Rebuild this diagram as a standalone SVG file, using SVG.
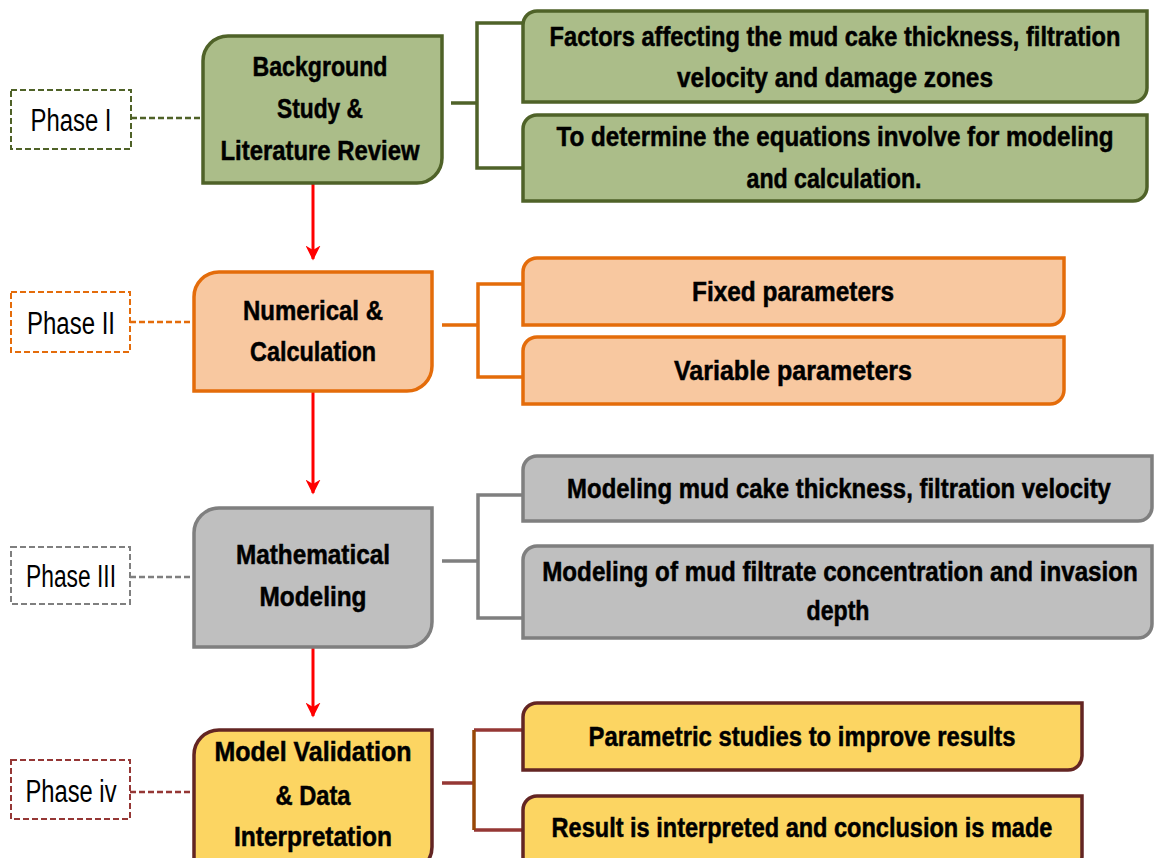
<svg xmlns="http://www.w3.org/2000/svg" width="1154" height="858" viewBox="0 0 1154 858">
<style>
.t{font-family:"Liberation Sans",Arial,sans-serif;font-weight:bold;font-size:27px;fill:#000;stroke:#000;stroke-width:0.5;text-anchor:middle}
.p{font-family:"Liberation Sans",Arial,sans-serif;font-size:31px;fill:#000;text-anchor:middle}
.box{stroke-width:3.5}
.g{fill:#ABBD89;stroke:#4F6228}
.o{fill:#F8C8A0;stroke:#E46C0A}
.y{fill:#BFBFBF;stroke:#7F7F7F}
.w{fill:#FCD562;stroke:#632523}
.dash{fill:#fff;stroke-width:2;stroke-dasharray:6 3}
.dl{fill:none;stroke-width:2.5;stroke-dasharray:6 3}
.br{fill:none;stroke-width:3.5}
.arr{stroke:#FF0000;stroke-width:3;fill:none}
</style>
<defs>
<marker id="ah" viewBox="0 0 10 10" refX="9" refY="5" markerWidth="5" markerHeight="5" orient="auto" markerUnits="strokeWidth">
<path d="M0,0 L10,5 L0,10 L3,5 Z" fill="#FF0000"/>
</marker>
</defs>

<g id="connectors">
<line class="arr" x1="313" y1="183" x2="313" y2="259" marker-end="url(#ah)"/>
<line class="arr" x1="313" y1="391" x2="313" y2="493" marker-end="url(#ah)"/>
<line class="arr" x1="313" y1="647" x2="313" y2="716" marker-end="url(#ah)"/>
<line class="dl" stroke="#4F6228" x1="131" y1="118" x2="203" y2="118"/>
<line class="dl" stroke="#E46C0A" x1="130" y1="322" x2="194" y2="322"/>
<line class="dl" stroke="#7F7F7F" x1="130" y1="577" x2="194" y2="577"/>
<line class="dl" stroke="#953735" x1="130" y1="792" x2="194" y2="792"/>
<path class="br" stroke="#4F6228" d="M451,103 H477 M523,23 H477 V168 H523"/>
<path class="br" stroke="#E46C0A" d="M442,325 H478 M523,284 H478 V377 H523"/>
<path class="br" stroke="#7F7F7F" d="M442,561 H478 M523,495 H478 V618 H523"/>
<path class="br" stroke="#953735" d="M442,783 H474 M523,730 H474 M523,830 H474"/>
<line class="br" stroke="#984807" x1="474" y1="730" x2="474" y2="830"/>
</g>

<g id="phase1">
<rect class="dash" stroke="#4F6228" x="11" y="90" width="120" height="59"/>
<text class="p" x="71" y="131" textLength="81" lengthAdjust="spacingAndGlyphs">Phase I</text>
</g>
<g id="phase2">
<rect class="dash" stroke="#E46C0A" x="11" y="292" width="119" height="60"/>
<text class="p" x="71" y="334" textLength="88" lengthAdjust="spacingAndGlyphs">Phase II</text>
</g>
<g id="phase3">
<rect class="dash" stroke="#7F7F7F" x="11" y="547" width="119" height="57"/>
<text class="p" x="71" y="587" textLength="90" lengthAdjust="spacingAndGlyphs">Phase III</text>
</g>
<g id="phase4">
<rect class="dash" stroke="#953735" x="11" y="760" width="119" height="59"/>
<text class="p" x="71" y="802" textLength="91" lengthAdjust="spacingAndGlyphs">Phase iv</text>
</g>

<g id="main1">
<path class="box g" d="M228,36 H442 V158 A25,25 0 0 1 417,183 H203 V61 A25,25 0 0 1 228,36 Z"/>
<text class="t" x="320" y="76" textLength="135" lengthAdjust="spacingAndGlyphs">Background</text>
<text class="t" x="320" y="118" textLength="86" lengthAdjust="spacingAndGlyphs">Study &amp;</text>
<text class="t" x="320" y="160" textLength="199" lengthAdjust="spacingAndGlyphs">Literature Review</text>
</g>
<g id="main2">
<path class="box o" d="M219,272 H432 V366 A25,25 0 0 1 407,391 H194 V297 A25,25 0 0 1 219,272 Z"/>
<text class="t" x="313" y="320" textLength="140" lengthAdjust="spacingAndGlyphs">Numerical &amp;</text>
<text class="t" x="313" y="361" textLength="126" lengthAdjust="spacingAndGlyphs">Calculation</text>
</g>
<g id="main3">
<path class="box y" d="M219,508 H432 V622 A25,25 0 0 1 407,647 H194 V533 A25,25 0 0 1 219,508 Z"/>
<text class="t" x="313" y="564" textLength="154" lengthAdjust="spacingAndGlyphs">Mathematical</text>
<text class="t" x="313" y="606" textLength="107" lengthAdjust="spacingAndGlyphs">Modeling</text>
</g>
<g id="main4">
<path class="box w" d="M219,730 H432 V847 A25,25 0 0 1 407,872 H194 V755 A25,25 0 0 1 219,730 Z"/>
<text class="t" x="313" y="761" textLength="197" lengthAdjust="spacingAndGlyphs">Model Validation</text>
<text class="t" x="313" y="805" textLength="75" lengthAdjust="spacingAndGlyphs">&amp; Data</text>
<text class="t" x="313" y="846" textLength="158" lengthAdjust="spacingAndGlyphs">Interpretation</text>
</g>

<g id="sub1a">
<path class="box g" d="M537,11 H1147 V88 A14,14 0 0 1 1133,102 H523 V25 A14,14 0 0 1 537,11 Z"/>
<text class="t" transform="translate(835,46) scale(0.73,1)" x="0" y="0" textLength="782" lengthAdjust="spacingAndGlyphs">Factors affecting the mud cake thickness, filtration</text>
<text class="t" x="835" y="87" textLength="316" lengthAdjust="spacingAndGlyphs">velocity and damage zones</text>
</g>
<g id="sub1b">
<path class="box g" d="M537,115 H1147 V187 A14,14 0 0 1 1133,201 H523 V129 A14,14 0 0 1 537,115 Z"/>
<text class="t" transform="translate(835,146) scale(0.73,1)" x="0" y="0" textLength="763" lengthAdjust="spacingAndGlyphs">To determine the equations involve for modeling</text>
<text class="t" x="834" y="188" textLength="175" lengthAdjust="spacingAndGlyphs">and calculation.</text>
</g>
<g id="sub2a">
<path class="box o" d="M537,258 H1064 V311 A14,14 0 0 1 1050,325 H523 V272 A14,14 0 0 1 537,258 Z"/>
<text class="t" x="793" y="301" textLength="202" lengthAdjust="spacingAndGlyphs">Fixed parameters</text>
</g>
<g id="sub2b">
<path class="box o" d="M537,337 H1064 V390 A14,14 0 0 1 1050,404 H523 V351 A14,14 0 0 1 537,337 Z"/>
<text class="t" x="793" y="380" textLength="238" lengthAdjust="spacingAndGlyphs">Variable parameters</text>
</g>
<g id="sub3a">
<path class="box y" d="M537,456 H1152 V507 A14,14 0 0 1 1138,521 H523 V470 A14,14 0 0 1 537,456 Z"/>
<text class="t" transform="translate(839,498) scale(0.73,1)" x="0" y="0" textLength="745" lengthAdjust="spacingAndGlyphs">Modeling mud cake thickness, filtration velocity</text>
</g>
<g id="sub3b">
<path class="box y" d="M537,546 H1152 V624 A14,14 0 0 1 1138,638 H523 V560 A14,14 0 0 1 537,546 Z"/>
<text class="t" transform="translate(840,581) scale(0.73,1)" x="0" y="0" textLength="816" lengthAdjust="spacingAndGlyphs">Modeling of mud filtrate concentration and invasion</text>
<text class="t" x="838" y="620" textLength="63" lengthAdjust="spacingAndGlyphs">depth</text>
</g>
<g id="sub4a">
<path class="box w" d="M537,703 H1082 V756 A14,14 0 0 1 1068,770 H523 V717 A14,14 0 0 1 537,703 Z"/>
<text class="t" transform="translate(802,746) scale(0.73,1)" x="0" y="0" textLength="585" lengthAdjust="spacingAndGlyphs">Parametric studies to improve results</text>
</g>
<g id="sub4b">
<path class="box w" d="M537,796 H1082 V856 A14,14 0 0 1 1068,870 H523 V810 A14,14 0 0 1 537,796 Z"/>
<text class="t" transform="translate(802,837) scale(0.73,1)" x="0" y="0" textLength="686" lengthAdjust="spacingAndGlyphs">Result is interpreted and conclusion is made</text>
</g>
</svg>
